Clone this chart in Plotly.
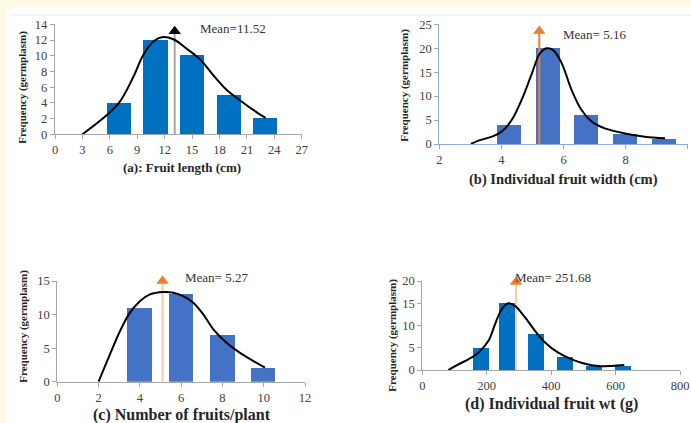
import plotly.graph_objects as go

W, H = 691, 423

# ---------- data ----------
# (a) Fruit length
a_bin_centers = [7.0, 11.0, 15.0, 19.0, 23.0]
a_freq = [4, 12, 10, 5, 2]
a_curve_x = [3.0, 5.68, 7.1, 8.57, 9.66, 10.76, 11.68, 12.96, 14.4, 15.9, 17.3, 18.8, 20.2, 21.7, 23.05]
a_curve_y = [0.0, 2.46, 4.16, 7.3, 10.1, 11.8, 12.35, 12.1, 10.9, 9.5, 7.55, 5.64, 4.37, 3.1, 2.08]
a_mean_x = 13.1
a_mean_top = 13.1
a_mean_label = "Mean=11.52"

# (b) Individual fruit width
b_bin_centers = [4.25, 5.5, 6.74, 8.0, 9.26]
b_freq = [4, 20, 6, 2, 1]
b_curve_x = [3.02, 3.26, 3.69, 4.01, 4.33, 4.65, 4.98, 5.24, 5.46, 5.67, 5.94, 6.26, 6.58, 6.91, 7.33, 7.98, 8.62, 9.27]
b_curve_y = [0.0, 0.7, 1.53, 2.58, 5.0, 9.2, 14.7, 18.9, 20.0, 19.6, 16.9, 11.3, 7.1, 4.67, 3.27, 2.2, 1.53, 1.18]
b_mean_x = 5.22
b_mean_top = 23.6
b_mean_label = "Mean= 5.16"

# (c) Number of fruits/plant
c_bin_centers = [4.0, 6.0, 8.02, 10.0]
c_freq = [11, 13, 7, 2]
c_curve_x = [2.0, 2.55, 3.04, 3.52, 4.0, 4.49, 5.13, 5.62, 6.1, 6.59, 7.07, 7.56, 8.2, 8.85, 9.5, 10.06]
c_curve_y = [0.0, 4.07, 7.55, 10.28, 12.0, 13.0, 13.36, 13.26, 12.76, 11.77, 10.03, 7.8, 5.8, 4.3, 3.08, 2.09]
c_mean_x = 5.1
c_mean_top = 15.0
c_mean_label = "Mean= 5.27"

# (d) Individual fruit wt
d_bin_centers = [183, 265, 355, 445, 535, 625]
d_freq = [5, 15, 8, 3, 1, 1]
d_curve_x = [81, 112, 143, 174, 205, 226, 246, 267, 288, 319, 350, 381, 422, 464, 505, 546, 588, 627]
d_curve_y = [0.0, 1.27, 2.4, 3.9, 6.5, 10.3, 13.6, 15.0, 14.4, 11.8, 8.8, 6.2, 3.9, 2.4, 1.42, 0.9, 0.9, 1.1]
d_mean_x = 291
d_mean_top = 19.8
d_mean_label = "Mean= 251.68"

titles = ["(a): Fruit length (cm)", "(b) Individual fruit width (cm)",
          "(c) Number of fruits/plant", "(d) Individual fruit wt (g)"]
ytitle = "Frequency (germplasm)"

# ---------- helpers ----------
def fx(px):
    return px / W

def fy(py):
    return 1 - py / H

SERIF = "Liberation Serif"
fig = go.Figure()

panels = [
    dict(ax="", bins=a_bin_centers, freq=a_freq, width=2.65, bar="#0070C0",
         cx=a_curve_x, cy=a_curve_y, mx=a_mean_x, mt=a_mean_top, mlab=a_mean_label,
         mline="#A6A6A6", mhead="#000000",
         xd=[fx(55), fx(301.7)], yd=[fy(134.3), fy(24.3)],
         xr=[0, 27], xdt=3, yr=[0, 14], ydt=2, axcol="#A6A6A6",
         mtxt=(19.45, 13.5, 0), title=titles[0], tpos=(182, 167.7), tsize=13,
         ypos=(22.7, 87)),
    dict(ax="2", bins=b_bin_centers, freq=b_freq, width=0.77, bar="#4472C4",
         cx=b_curve_x, cy=b_curve_y, mx=b_mean_x, mt=b_mean_top, mlab=b_mean_label,
         mline="#ED7D31", mhead="#ED7D31",
         xd=[fx(439.3), fx(687.7)], yd=[fy(144), fy(24.3)],
         xr=[2, 10], xdt=2, yr=[0, 25], ydt=5, axcol="#8FAADC",
         mtxt=(7.0, 22.8, 0), title=titles[1], tpos=(563.3, 180), tsize=14.5,
         ypos=(405, 85.7)),
    dict(ax="3", bins=c_bin_centers, freq=c_freq, width=1.17, bar="#4472C4",
         cx=c_curve_x, cy=c_curve_y, mx=c_mean_x, mt=c_mean_top, mlab=c_mean_label,
         mline="#F8CBAD", mhead="#ED7D31",
         xd=[fx(57.3), fx(305)], yd=[fy(381.7), fy(281)],
         xr=[0, 12], xdt=2, yr=[0, 15], ydt=5, axcol="#A6A6A6",
         mtxt=(7.72, 15.0, 3.5), title=titles[2], tpos=(181.7, 415), tsize=16,
         ypos=(22.7, 326)),
    dict(ax="4", bins=d_bin_centers, freq=d_freq, width=50, bar="#0070C0",
         cx=d_curve_x, cy=d_curve_y, mx=d_mean_x, mt=d_mean_top, mlab=d_mean_label,
         mline="#F8CBAD", mhead="#ED7D31",
         xd=[fx(422.3), fx(680)], yd=[fy(370), fy(281)],
         xr=[0, 800], xdt=200, yr=[0, 20], ydt=5, axcol="#A6A6A6",
         mtxt=(407, 20.0, 4), title=titles[3], tpos=(551.7, 403.7), tsize=16,
         ypos=(391.7, 335)),
]

annotations = []
layout_axes = {}
for p in panels:
    xa = "x" + p["ax"]
    ya = "y" + p["ax"]
    fig.add_trace(go.Bar(x=p["bins"], y=p["freq"], width=p["width"],
                         marker=dict(color=p["bar"], line=dict(width=0)),
                         xaxis=xa, yaxis=ya, showlegend=False))
    fig.add_trace(go.Scatter(x=[p["mx"], p["mx"]], y=[0, p["mt"]], mode="lines",
                             line=dict(color=p["mline"], width=2),
                             xaxis=xa, yaxis=ya, showlegend=False, cliponaxis=False))
    fig.add_trace(go.Scatter(x=p["cx"], y=p["cy"], mode="lines",
                             line=dict(color="black", width=2, shape="spline", smoothing=1),
                             xaxis=xa, yaxis=ya, showlegend=False, cliponaxis=False))
    fig.add_trace(go.Scatter(x=[p["mx"]], y=[p["mt"]], mode="markers",
                             marker=dict(symbol="triangle-up", size=11, color=p["mhead"]),
                             xaxis=xa, yaxis=ya, showlegend=False, cliponaxis=False))
    key = "xaxis" + p["ax"]
    ykey = "yaxis" + p["ax"]
    common = dict(showgrid=False, zeroline=False, automargin=False,
                  showline=True, linecolor=p["axcol"], linewidth=1.3,
                  ticks="outside", ticklen=4, tickcolor=p["axcol"],
                  tickfont=dict(family=SERIF, size=12.5, color="#404040"))
    layout_axes[key] = dict(domain=p["xd"], range=p["xr"], dtick=p["xdt"], tick0=0,
                            anchor=ya, **common)
    layout_axes[ykey] = dict(domain=p["yd"], range=p["yr"], dtick=p["ydt"], tick0=0,
                             anchor=xa, **common)
    annotations.append(dict(x=p["mtxt"][0], y=p["mtxt"][1], yshift=p["mtxt"][2],
                            xref=xa, yref=ya, xanchor="center", yanchor="middle",
                            text=p["mlab"], showarrow=False,
                            font=dict(family=SERIF, size=13, color="#333333")))
    annotations.append(dict(x=fx(p["tpos"][0]), y=fy(p["tpos"][1]), xref="paper", yref="paper",
                            xanchor="center", yanchor="middle",
                            text="<b>" + p["title"] + "</b>", showarrow=False,
                            font=dict(family=SERIF, size=p["tsize"], color="#262626")))
    annotations.append(dict(x=fx(p["ypos"][0]), y=fy(p["ypos"][1]), xref="paper", yref="paper",
                            xanchor="center", yanchor="middle",
                            text="<b>" + ytitle + "</b>", showarrow=False, textangle=-90,
                            font=dict(family=SERIF, size=11, color="#262626")))

shapes = [
    dict(type="rect", xref="paper", yref="paper", x0=0, x1=1, y0=fy(7), y1=1,
         fillcolor="#FFF9E6", line=dict(width=0), layer="below"),
    dict(type="rect", xref="paper", yref="paper", x0=0, x1=fx(7), y0=0, y1=1,
         fillcolor="#FFF9E6", line=dict(width=0), layer="below"),
    dict(type="line", xref="paper", yref="paper", x0=fx(10), x1=1, y0=fy(15), y1=fy(15),
         line=dict(color="#EBEBEB", width=1), layer="below"),
]

fig.update_layout(width=W, height=H, margin=dict(l=0, r=0, t=0, b=0, autoexpand=False),
                  paper_bgcolor="white", plot_bgcolor="rgba(0,0,0,0)",
                  annotations=annotations, shapes=shapes, bargap=0,
                  showlegend=False, **layout_axes)

fig.write_html("out.html", config={"displayModeBar": False},
               post_script="document.body.style.margin='0px';document.body.style.overflow='hidden';")
